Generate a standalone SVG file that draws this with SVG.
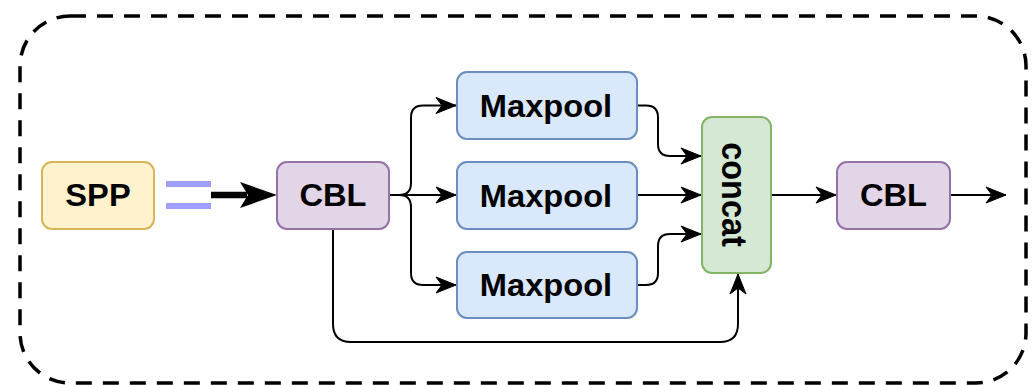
<svg xmlns="http://www.w3.org/2000/svg" width="1035" height="385" viewBox="0 0 1035 385">
  <style>
    .box { stroke-width: 2; }
    .spp { fill: #fff2cc; stroke: #d6b656; }
    .cbl { fill: #e1d5e7; stroke: #9673a6; }
    .pool { fill: #dae8fc; stroke: #6c8ebf; }
    .cat { fill: #d5e8d4; stroke: #82b366; }
    .label { font-family: "Liberation Sans", Arial, Helvetica, sans-serif; font-weight: bold; font-size: 30.5px; fill: #000; text-anchor: middle; }
    .edge { fill: none; stroke: #000; stroke-width: 2; marker-end: url(#arrow); }
    .frame { fill: none; stroke: #000; stroke-width: 3.5; stroke-dasharray: 16 11; }
  </style>
  <defs>
    <marker id="arrow" markerUnits="userSpaceOnUse" viewBox="-21 -10 23 20" refX="0" refY="0" markerWidth="23" markerHeight="20" orient="auto">
      <path d="M0,0 L-20,-8 L-14,0 L-20,8 Z" fill="#000" stroke="#000" stroke-width="1" stroke-linejoin="miter"/>
    </marker>
  </defs>

  <!-- dashed module outline -->
  <rect class="frame" x="20" y="16" width="1006" height="367" rx="50" ry="50"/>

  <!-- equivalence sign and thick arrow -->
  <g id="equals">
    <rect x="166" y="181" width="45" height="6" fill="#9f9fff"/>
    <rect x="166" y="203" width="45" height="6" fill="#9f9fff"/>
    <line x1="211" y1="195" x2="247" y2="195" stroke="#000" stroke-width="6.5"/>
    <path d="M277,195 L240,182 L248,195 L240,208 Z" fill="#000"/>
  </g>

  <g id="connectors">
    <path class="edge" d="M389,195 H399 Q411,195 411,183 V117.5 Q411,105.5 423,105.5 H456"/>
    <path class="edge" d="M389,195 H456"/>
    <path class="edge" d="M389,195 H399 Q411,195 411,207 V273 Q411,285 423,285 H456"/>
    <path class="edge" d="M637,105.5 H646 Q658,105.5 658,117.5 V144 Q658,156 670,156 H701"/>
    <path class="edge" d="M637,195 H701"/>
    <path class="edge" d="M637,285 H646 Q658,285 658,273 V246 Q658,234 670,234 H701"/>
    <path class="edge" d="M333,229 V324 Q333,342 351,342 H720 Q738,342 738,324 V274"/>
    <path class="edge" d="M771,195 H836"/>
    <path class="edge" d="M950,195 H1006"/>
  </g>

  <g id="spp">
    <rect class="box spp" x="42" y="162" width="112" height="67" rx="10"/>
    <text class="label" transform="translate(98,206) scale(1.07,1)">SPP</text>
  </g>
  <g id="cbl1">
    <rect class="box cbl" x="277" y="162" width="112" height="67" rx="10"/>
    <text class="label" transform="translate(333,206) scale(1.07,1)">CBL</text>
  </g>
  <g id="maxpool1">
    <rect class="box pool" x="457" y="72" width="180" height="67" rx="10"/>
    <text class="label" transform="translate(546,116.5) scale(1.07,1)">Maxpool</text>
  </g>
  <g id="maxpool2">
    <rect class="box pool" x="457" y="162" width="180" height="67" rx="10"/>
    <text class="label" transform="translate(546,206.5) scale(1.07,1)">Maxpool</text>
  </g>
  <g id="maxpool3">
    <rect class="box pool" x="457" y="252" width="180" height="66" rx="10"/>
    <text class="label" transform="translate(546,296) scale(1.07,1)">Maxpool</text>
  </g>
  <g id="concat">
    <rect class="box cat" x="702" y="117" width="69" height="156" rx="10"/>
    <text class="label" style="font-size:32.5px" transform="translate(736.5,194.5) scale(1.07,1) rotate(90)" x="0" y="13.5">concat</text>
  </g>
  <g id="cbl2">
    <rect class="box cbl" x="837" y="162" width="113" height="67" rx="10"/>
    <text class="label" transform="translate(893.5,206) scale(1.07,1)">CBL</text>
  </g>
</svg>
